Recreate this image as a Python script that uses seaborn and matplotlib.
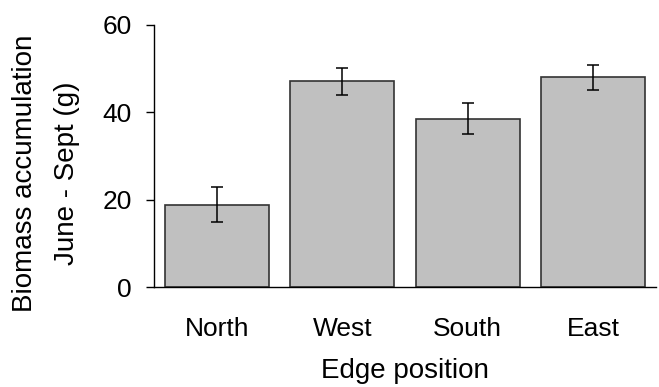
import matplotlib
matplotlib.use("Agg")
import matplotlib.pyplot as plt
import seaborn as sns
import numpy as np
import pandas as pd

categories = ["North", "West", "South", "East"]
biomass = [18.9, 47.1, 38.5, 48.0]
errors = [3.95, 3.1, 3.5, 2.85]
yticks = [0, 20, 40, 60]

sns.set_style("ticks")
plt.rcParams['font.family'] = ['Liberation Sans', 'DejaVu Sans']
plt.rcParams['text.color'] = 'black'
plt.rcParams['axes.labelcolor'] = 'black'

df = pd.DataFrame({"position": categories, "biomass": biomass})

fig = plt.figure(figsize=(6.59, 3.87), dpi=100)
ax = fig.add_axes([0.2337, 0.2576, 0.9954 - 0.2337, 0.9362 - 0.2576])

sns.barplot(data=df, x="position", y="biomass", color="#c0c0c0", saturation=1,
            edgecolor="#333333", linewidth=1.2, width=0.83, errorbar=None, ax=ax)
ax.errorbar(np.arange(len(categories)), biomass, yerr=errors, fmt="none",
            ecolor="black", elinewidth=1.1, capsize=4, capthick=1.1)

ax.set_ylim(0, 60)
ax.set_xlim(-0.5, len(categories) - 0.5)
ax.set_yticks(yticks)
sns.despine(ax=ax)
for s in ["left", "bottom"]:
    ax.spines[s].set_linewidth(1.0)
    ax.spines[s].set_color("black")

ax.tick_params(axis="y", length=6, width=1.0, pad=10, labelsize=19, colors="black")
ax.tick_params(axis="x", length=0, pad=21.5, labelsize=19, colors="black")
ax.set_xlabel("Edge position", fontsize=20, labelpad=12, color="black")
ax.set_ylabel("Biomass accumulation\nJune - Sept (g)", fontsize=20, linespacing=1.76,
              color="black", va="center")
ax.yaxis.set_label_coords(-0.215, 0.435)

fig.savefig("out.png", dpi=100)
